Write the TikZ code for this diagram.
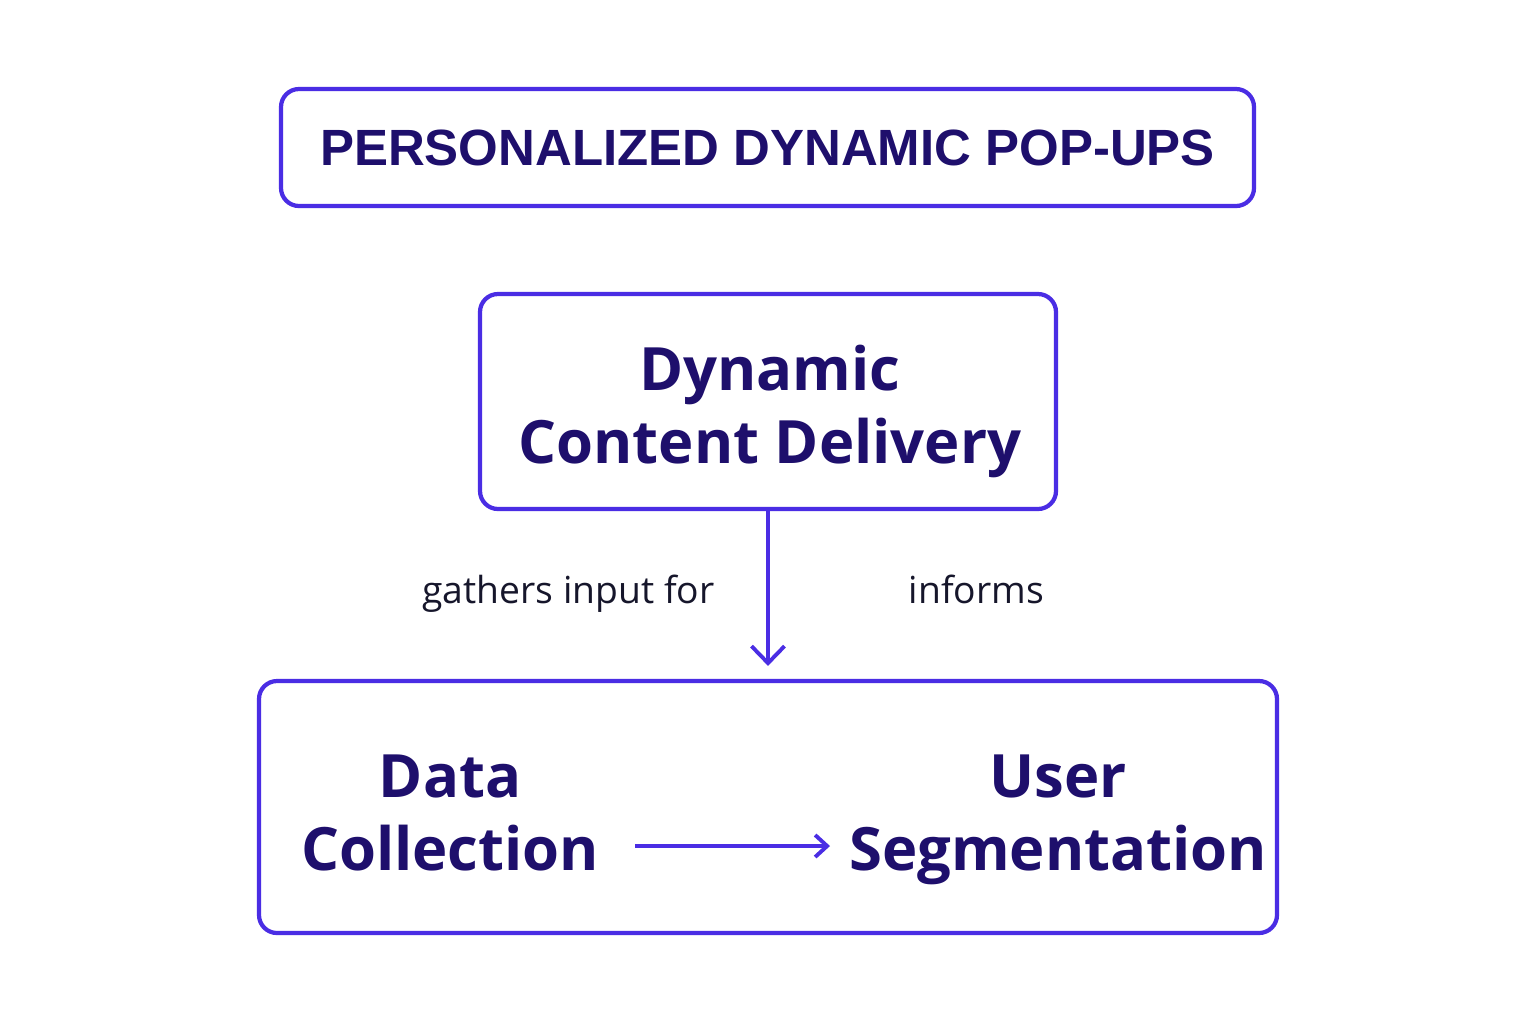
\documentclass[tikz,border=0pt]{standalone}
\usepackage{fontspec}
\usepackage{tikz}
\usetikzlibrary{arrows.meta}
\usetikzlibrary{positioning}
\setmainfont{Open Sans}
\newfontfamily\titlefont{Liberation Sans}
\definecolor{edgeblue}{HTML}{4A2DE4}
\definecolor{inkblue}{HTML}{1E0F6C}
\definecolor{labelink}{HTML}{16162B}

\begin{document}
\begin{tikzpicture}[
  frame/.style={draw=edgeblue,line width=1.2pt,rounded corners=0.18cm},
  bigtext/.style={text=inkblue,font=\fontsize{17}{20.7}\selectfont\bfseries,align=center},
  edgelabel/.style={text=labelink,font=\fontsize{10.6}{13}\selectfont,anchor=base},
  link/.style={draw=edgeblue,line width=1.1pt}
]
\useasboundingbox[fill=white] (0,0) rectangle (15.36,-10.24);
% boxes
\node[frame,minimum width=9.73cm,minimum height=1.17cm] (title) at (7.675,-1.475)
  {\titlefont\fontsize{14.5}{17}\selectfont\bfseries\color{inkblue}PERSONALIZED DYNAMIC POP-UPS};
\node[frame,minimum width=5.76cm,minimum height=2.15cm] (delivery) at (7.68,-4.015) {};
\node[bigtext,anchor=base] (deliverytext) at (7.70,-4.63) {Dynamic\\Content Delivery};
\node[frame,minimum width=10.18cm,minimum height=2.52cm] (group) at (7.68,-8.07) {};
\node[bigtext,anchor=base] (collect) at (4.5,-8.70) {Data\\Collection};
\node[bigtext,anchor=base] (segment) at (10.58,-8.70) {User\\Segmentation};
% labels
\node[edgelabel] (gather) at (5.685,-6.03) {gathers input for};
\node[edgelabel] (inform) at (9.765,-6.03) {informs};
% arrows
\draw[link,-{Straight Barb[length=0.17cm,width=0.33cm,line width=1.1pt]},shorten >=0.13cm] (delivery.south) -- (group.north);
\coordinate (hstart) at (6.35,-8.46);
\coordinate (hend) at (8.30,-8.46);
\draw[link,-{Straight Barb[length=0.12cm,width=0.22cm,line width=1.1pt]}] (hstart) -- (hend);
\end{tikzpicture}
\end{document}
